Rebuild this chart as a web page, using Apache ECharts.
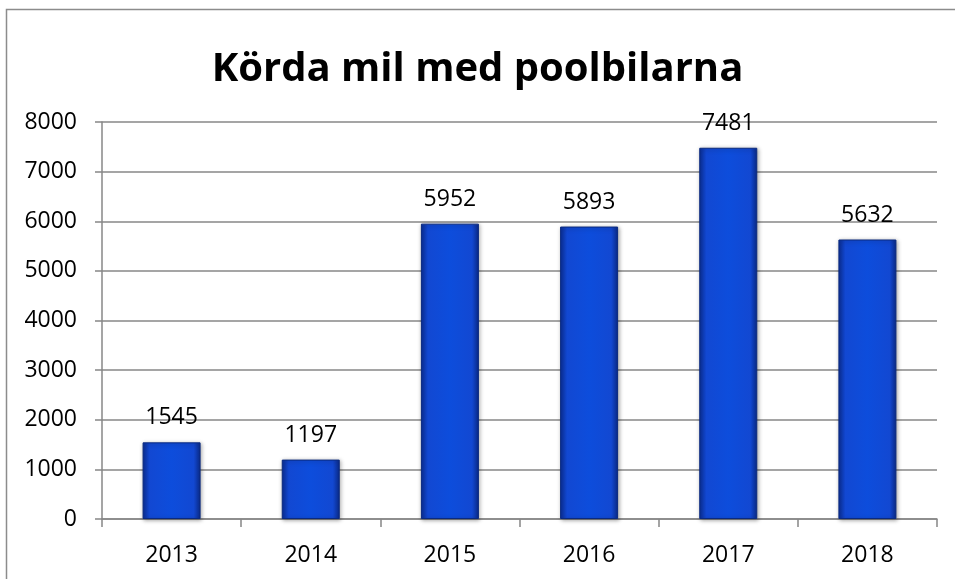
<!DOCTYPE html>
<html><head><meta charset="utf-8">
<script src="https://cdn.jsdelivr.net/npm/echarts@6/dist/echarts.min.js"></script>
<style>html,body{margin:0;padding:0;background:#fff}#c{width:955px;height:579px}</style>
</head><body><div id="c"></div>
<script>
const title = "Körda mil med poolbilarna";
const years = ["2013","2014","2015","2016","2017","2018"];
const values = [1545, 1197, 5952, 5893, 7481, 5632];

const chart = echarts.init(document.getElementById('c'));
const font = '"Open Sans", sans-serif';
chart.setOption({
  animation: false,
  backgroundColor: '#fff',
  title: {
    text: title, left: 'center', top: 45,
    textStyle: {fontFamily: font, fontWeight: 'bold', fontSize: 40, color: '#000'}
  },
  graphic: [{
    type: 'rect', shape: {x: 6.5, y: 9.5, width: 1000, height: 1000},
    style: {fill: 'none', stroke: '#8c8c8c', lineWidth: 1.5}, silent: true, z: -1
  }],
  grid: {left: 102, right: 18, top: 122, bottom: 60},
  xAxis: {
    type: 'category', data: years,
    axisLine: {lineStyle: {color: '#878787', width: 1.5}},
    axisTick: {show: true, length: 8, alignWithLabel: false, lineStyle: {color: '#878787', width: 1.5}},
    axisLabel: {fontFamily: font, fontSize: 23, color: '#000', margin: 25}
  },
  yAxis: {
    type: 'value', min: 0, max: 8000, interval: 1000,
    axisLine: {show: true, lineStyle: {color: '#878787', width: 1.5}},
    axisTick: {show: true, length: 7, lineStyle: {color: '#878787', width: 1.5}},
    splitLine: {lineStyle: {color: '#878787', width: 1.5}},
    axisLabel: {fontFamily: font, fontSize: 23, color: '#000', margin: 25, formatter: v => String(v)}
  },
  series: [{
    type: 'bar', data: values, barWidth: 58,
    itemStyle: {
      color: new echarts.graphic.LinearGradient(0, 0, 1, 0, [
        {offset: 0, color: '#0a2e96'},
        {offset: 0.12, color: '#1248d2'},
        {offset: 0.5, color: '#0d4ddc'},
        {offset: 0.88, color: '#1248d2'},
        {offset: 1, color: '#0a2a88'}
      ]),
      borderColor: '#0a2a80', borderWidth: 1,
      shadowColor: 'rgba(0,0,0,0.35)', shadowBlur: 4, shadowOffsetX: 1, shadowOffsetY: 1
    },
    label: {show: true, position: 'top', distance: 13, fontFamily: font, fontSize: 23, color: '#000'}
  }]
});
</script></body></html>
